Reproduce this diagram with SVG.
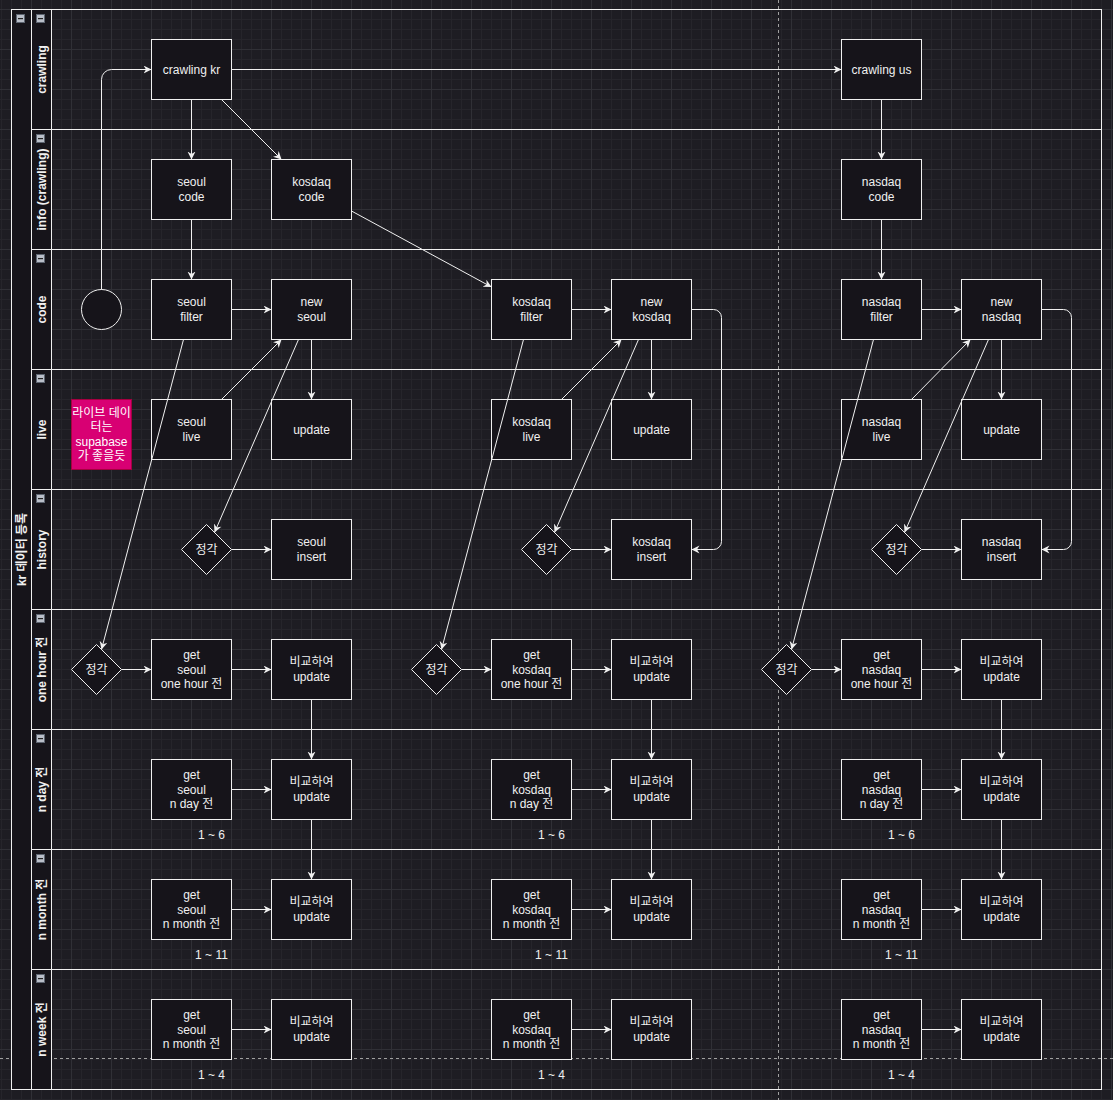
<svg xmlns="http://www.w3.org/2000/svg" width="1113" height="1100" viewBox="0 0 1113 1100">
<defs>
<pattern id="grid" x="31" y="9" width="40" height="40" patternUnits="userSpaceOnUse">
<rect x="0" y="0" width="40" height="40" fill="#1e1d23"/>
<rect x="10" y="0" width="1" height="40" fill="#26252b"/>
<rect x="20" y="0" width="1" height="40" fill="#26252b"/>
<rect x="30" y="0" width="1" height="40" fill="#26252b"/>
<rect x="0" y="10" width="40" height="1" fill="#26252b"/>
<rect x="0" y="20" width="40" height="1" fill="#26252b"/>
<rect x="0" y="30" width="40" height="1" fill="#26252b"/>
<rect x="0" y="0" width="1" height="40" fill="#303036"/>
<rect x="0" y="0" width="40" height="1" fill="#303036"/>
</pattern>
<marker id="arr" markerUnits="userSpaceOnUse" markerWidth="10" markerHeight="10" refX="8" refY="4" orient="auto">
<path d="M8,4 L0,0 L2.5,4 L0,8 Z" fill="#f0f0f0" stroke="none"/>
</marker>
<g id="icon">
<rect x="0.5" y="0.5" width="8" height="8" fill="#b9bec8" stroke="#5d6470" stroke-width="1"/>
<rect x="2" y="4" width="5" height="1.2" fill="#222"/>
</g>
</defs>
<style>
.box{fill:#16141a;stroke:#f0f0f0;stroke-width:1}
.hdr{fill:#16141a;stroke:#f0f0f0;stroke-width:1}
.lane{fill:none;stroke:#f0f0f0;stroke-width:1}
.t{font-family:"Liberation Sans",Arial,"Noto Sans CJK KR",sans-serif;font-size:12px;fill:#f0f0f0;text-anchor:middle}
.b{font-weight:bold}
.c{fill:none;stroke:#f0f0f0;stroke-width:1;marker-end:url(#arr)}
.dash{stroke:#a0a0a0;stroke-width:1;stroke-dasharray:3 3;fill:none}
</style>
<rect x="0" y="0" width="1113" height="1100" fill="url(#grid)"/>
<path class="dash" d="M778.5,0 V1100 M0,1058.5 H1113"/>

<g id="pool">
<rect class="lane" x="11.5" y="9.5" width="1090" height="1080"/>
<rect class="hdr" x="11.5" y="9.5" width="20" height="1080"/>
<use href="#icon" x="16" y="14"/>
<text class="t b" transform="translate(25.8,549.5) rotate(-90)">kr 데이터 등록</text>
</g>
<g id="lane-crawling">
<rect class="lane" x="31.5" y="9.5" width="1070" height="120"/>
<rect class="hdr" x="31.5" y="9.5" width="20" height="120"/>
<use href="#icon" x="36" y="14"/>
<text class="t b" transform="translate(45.8,69.5) rotate(-90)">crawling</text>
</g>
<g id="lane-info">
<rect class="lane" x="31.5" y="129.5" width="1070" height="120"/>
<rect class="hdr" x="31.5" y="129.5" width="20" height="120"/>
<use href="#icon" x="36" y="134"/>
<text class="t b" transform="translate(45.8,189.5) rotate(-90)">info (crawling)</text>
</g>
<g id="lane-code">
<rect class="lane" x="31.5" y="249.5" width="1070" height="120"/>
<rect class="hdr" x="31.5" y="249.5" width="20" height="120"/>
<use href="#icon" x="36" y="254"/>
<text class="t b" transform="translate(45.8,309.5) rotate(-90)">code</text>
</g>
<g id="lane-live">
<rect class="lane" x="31.5" y="369.5" width="1070" height="120"/>
<rect class="hdr" x="31.5" y="369.5" width="20" height="120"/>
<use href="#icon" x="36" y="374"/>
<text class="t b" transform="translate(45.8,429.5) rotate(-90)">live</text>
</g>
<g id="lane-history">
<rect class="lane" x="31.5" y="489.5" width="1070" height="120"/>
<rect class="hdr" x="31.5" y="489.5" width="20" height="120"/>
<use href="#icon" x="36" y="494"/>
<text class="t b" transform="translate(45.8,549.5) rotate(-90)">history</text>
</g>
<g id="lane-onehour">
<rect class="lane" x="31.5" y="609.5" width="1070" height="120"/>
<rect class="hdr" x="31.5" y="609.5" width="20" height="120"/>
<use href="#icon" x="36" y="614"/>
<text class="t b" transform="translate(45.8,669.5) rotate(-90)">one hour 전</text>
</g>
<g id="lane-nday">
<rect class="lane" x="31.5" y="729.5" width="1070" height="120"/>
<rect class="hdr" x="31.5" y="729.5" width="20" height="120"/>
<use href="#icon" x="36" y="734"/>
<text class="t b" transform="translate(45.8,789.5) rotate(-90)">n day 전</text>
</g>
<g id="lane-nmonth">
<rect class="lane" x="31.5" y="849.5" width="1070" height="120"/>
<rect class="hdr" x="31.5" y="849.5" width="20" height="120"/>
<use href="#icon" x="36" y="854"/>
<text class="t b" transform="translate(45.8,909.5) rotate(-90)">n month 전</text>
</g>
<g id="lane-nweek">
<rect class="lane" x="31.5" y="969.5" width="1070" height="120"/>
<rect class="hdr" x="31.5" y="969.5" width="20" height="120"/>
<use href="#icon" x="36" y="974"/>
<text class="t b" transform="translate(45.8,1029.5) rotate(-90)">n week 전</text>
</g>

<!-- nodes -->
<g id="start"><circle cx="101.5" cy="309.5" r="20" class="box"/></g>
<g id="crawling-kr"><rect class="box" x="151.5" y="39.5" width="80" height="60"/><text class="t" x="191.5" y="73.5">crawling kr</text></g>
<g id="crawling-us"><rect class="box" x="841.5" y="39.5" width="80" height="60"/><text class="t" x="881.5" y="73.5">crawling us</text></g>

<g id="seoul-code"><rect class="box" x="151.5" y="159.5" width="80" height="60"/><text class="t" x="191.5" y="186.3">seoul<tspan x="191.5" dy="14.4">code</tspan></text></g>
<g id="kosdaq-code"><rect class="box" x="271.5" y="159.5" width="80" height="60"/><text class="t" x="311.5" y="186.3">kosdaq<tspan x="311.5" dy="14.4">code</tspan></text></g>
<g id="nasdaq-code"><rect class="box" x="841.5" y="159.5" width="80" height="60"/><text class="t" x="881.5" y="186.3">nasdaq<tspan x="881.5" dy="14.4">code</tspan></text></g>

<g id="seoul-filter"><rect class="box" x="151.5" y="279.5" width="80" height="60"/><text class="t" x="191.5" y="306.3">seoul<tspan x="191.5" dy="14.4">filter</tspan></text></g>
<g id="new-seoul"><rect class="box" x="271.5" y="279.5" width="80" height="60"/><text class="t" x="311.5" y="306.3">new<tspan x="311.5" dy="14.4">seoul</tspan></text></g>
<g id="kosdaq-filter"><rect class="box" x="491.5" y="279.5" width="80" height="60"/><text class="t" x="531.5" y="306.3">kosdaq<tspan x="531.5" dy="14.4">filter</tspan></text></g>
<g id="new-kosdaq"><rect class="box" x="611.5" y="279.5" width="80" height="60"/><text class="t" x="651.5" y="306.3">new<tspan x="651.5" dy="14.4">kosdaq</tspan></text></g>
<g id="nasdaq-filter"><rect class="box" x="841.5" y="279.5" width="80" height="60"/><text class="t" x="881.5" y="306.3">nasdaq<tspan x="881.5" dy="14.4">filter</tspan></text></g>
<g id="new-nasdaq"><rect class="box" x="961.5" y="279.5" width="80" height="60"/><text class="t" x="1001.5" y="306.3">new<tspan x="1001.5" dy="14.4">nasdaq</tspan></text></g>

<g id="note"><rect x="71.5" y="399.5" width="60" height="70" fill="#d80073" stroke="#a50040"/><text class="t" x="101.5" y="416.9" style="fill:#ffffff">라이브 데이<tspan x="101.5" dy="14.4">터는</tspan><tspan x="101.5" dy="14.4">supabase</tspan><tspan x="101.5" dy="14.4">가 좋을듯</tspan></text></g>

<g id="seoul-live"><rect class="box" x="151.5" y="399.5" width="80" height="60"/><text class="t" x="191.5" y="426.3">seoul<tspan x="191.5" dy="14.4">live</tspan></text></g>
<g id="seoul-update"><rect class="box" x="271.5" y="399.5" width="80" height="60"/><text class="t" x="311.5" y="433.5">update</text></g>
<g id="kosdaq-live"><rect class="box" x="491.5" y="399.5" width="80" height="60"/><text class="t" x="531.5" y="426.3">kosdaq<tspan x="531.5" dy="14.4">live</tspan></text></g>
<g id="kosdaq-update"><rect class="box" x="611.5" y="399.5" width="80" height="60"/><text class="t" x="651.5" y="433.5">update</text></g>
<g id="nasdaq-live"><rect class="box" x="841.5" y="399.5" width="80" height="60"/><text class="t" x="881.5" y="426.3">nasdaq<tspan x="881.5" dy="14.4">live</tspan></text></g>
<g id="nasdaq-update"><rect class="box" x="961.5" y="399.5" width="80" height="60"/><text class="t" x="1001.5" y="433.5">update</text></g>

<g id="seoul-hour-check"><path class="box" d="M206.5,524.5 L231.5,549.5 L206.5,574.5 L181.5,549.5 Z"/><text class="t" x="206.5" y="553.5">정각</text></g>
<g id="seoul-insert"><rect class="box" x="271.5" y="519.5" width="80" height="60"/><text class="t" x="311.5" y="546.3">seoul<tspan x="311.5" dy="14.4">insert</tspan></text></g>
<g id="kosdaq-hour-check"><path class="box" d="M546.5,524.5 L571.5,549.5 L546.5,574.5 L521.5,549.5 Z"/><text class="t" x="546.5" y="553.5">정각</text></g>
<g id="kosdaq-insert"><rect class="box" x="611.5" y="519.5" width="80" height="60"/><text class="t" x="651.5" y="546.3">kosdaq<tspan x="651.5" dy="14.4">insert</tspan></text></g>
<g id="nasdaq-hour-check"><path class="box" d="M896.5,524.5 L921.5,549.5 L896.5,574.5 L871.5,549.5 Z"/><text class="t" x="896.5" y="553.5">정각</text></g>
<g id="nasdaq-insert"><rect class="box" x="961.5" y="519.5" width="80" height="60"/><text class="t" x="1001.5" y="546.3">nasdaq<tspan x="1001.5" dy="14.4">insert</tspan></text></g>

<g id="seoul-oh-check"><path class="box" d="M96.5,644.5 L121.5,669.5 L96.5,694.5 L71.5,669.5 Z"/><text class="t" x="96.5" y="673.5">정각</text></g>
<g id="get-seoul-oh"><rect class="box" x="151.5" y="639.5" width="80" height="60"/><text class="t" x="191.5" y="659.1">get<tspan x="191.5" dy="14.4">seoul</tspan><tspan x="191.5" dy="14.4">one hour 전</tspan></text></g>
<g id="seoul-oh-update"><rect class="box" x="271.5" y="639.5" width="80" height="60"/><text class="t" x="311.5" y="666.3">비교하여<tspan x="311.5" dy="14.4">update</tspan></text></g>
<g id="kosdaq-oh-check"><path class="box" d="M436.5,644.5 L461.5,669.5 L436.5,694.5 L411.5,669.5 Z"/><text class="t" x="436.5" y="673.5">정각</text></g>
<g id="get-kosdaq-oh"><rect class="box" x="491.5" y="639.5" width="80" height="60"/><text class="t" x="531.5" y="659.1">get<tspan x="531.5" dy="14.4">kosdaq</tspan><tspan x="531.5" dy="14.4">one hour 전</tspan></text></g>
<g id="kosdaq-oh-update"><rect class="box" x="611.5" y="639.5" width="80" height="60"/><text class="t" x="651.5" y="666.3">비교하여<tspan x="651.5" dy="14.4">update</tspan></text></g>
<g id="nasdaq-oh-check"><path class="box" d="M786.5,644.5 L811.5,669.5 L786.5,694.5 L761.5,669.5 Z"/><text class="t" x="786.5" y="673.5">정각</text></g>
<g id="get-nasdaq-oh"><rect class="box" x="841.5" y="639.5" width="80" height="60"/><text class="t" x="881.5" y="659.1">get<tspan x="881.5" dy="14.4">nasdaq</tspan><tspan x="881.5" dy="14.4">one hour 전</tspan></text></g>
<g id="nasdaq-oh-update"><rect class="box" x="961.5" y="639.5" width="80" height="60"/><text class="t" x="1001.5" y="666.3">비교하여<tspan x="1001.5" dy="14.4">update</tspan></text></g>

<g id="get-seoul-nd"><rect class="box" x="151.5" y="759.5" width="80" height="60"/><text class="t" x="191.5" y="779.1">get<tspan x="191.5" dy="14.4">seoul</tspan><tspan x="191.5" dy="14.4">n day 전</tspan></text></g>
<g id="seoul-nd-update"><rect class="box" x="271.5" y="759.5" width="80" height="60"/><text class="t" x="311.5" y="786.3">비교하여<tspan x="311.5" dy="14.4">update</tspan></text></g>
<g id="get-kosdaq-nd"><rect class="box" x="491.5" y="759.5" width="80" height="60"/><text class="t" x="531.5" y="779.1">get<tspan x="531.5" dy="14.4">kosdaq</tspan><tspan x="531.5" dy="14.4">n day 전</tspan></text></g>
<g id="kosdaq-nd-update"><rect class="box" x="611.5" y="759.5" width="80" height="60"/><text class="t" x="651.5" y="786.3">비교하여<tspan x="651.5" dy="14.4">update</tspan></text></g>
<g id="get-nasdaq-nd"><rect class="box" x="841.5" y="759.5" width="80" height="60"/><text class="t" x="881.5" y="779.1">get<tspan x="881.5" dy="14.4">nasdaq</tspan><tspan x="881.5" dy="14.4">n day 전</tspan></text></g>
<g id="nasdaq-nd-update"><rect class="box" x="961.5" y="759.5" width="80" height="60"/><text class="t" x="1001.5" y="786.3">비교하여<tspan x="1001.5" dy="14.4">update</tspan></text></g>
<g id="range-nd"><text class="t" x="211.5" y="838.5">1 ~ 6</text><text class="t" x="551.5" y="838.5">1 ~ 6</text><text class="t" x="901.5" y="838.5">1 ~ 6</text></g>

<g id="get-seoul-nm"><rect class="box" x="151.5" y="879.5" width="80" height="60"/><text class="t" x="191.5" y="899.1">get<tspan x="191.5" dy="14.4">seoul</tspan><tspan x="191.5" dy="14.4">n month 전</tspan></text></g>
<g id="seoul-nm-update"><rect class="box" x="271.5" y="879.5" width="80" height="60"/><text class="t" x="311.5" y="906.3">비교하여<tspan x="311.5" dy="14.4">update</tspan></text></g>
<g id="get-kosdaq-nm"><rect class="box" x="491.5" y="879.5" width="80" height="60"/><text class="t" x="531.5" y="899.1">get<tspan x="531.5" dy="14.4">kosdaq</tspan><tspan x="531.5" dy="14.4">n month 전</tspan></text></g>
<g id="kosdaq-nm-update"><rect class="box" x="611.5" y="879.5" width="80" height="60"/><text class="t" x="651.5" y="906.3">비교하여<tspan x="651.5" dy="14.4">update</tspan></text></g>
<g id="get-nasdaq-nm"><rect class="box" x="841.5" y="879.5" width="80" height="60"/><text class="t" x="881.5" y="899.1">get<tspan x="881.5" dy="14.4">nasdaq</tspan><tspan x="881.5" dy="14.4">n month 전</tspan></text></g>
<g id="nasdaq-nm-update"><rect class="box" x="961.5" y="879.5" width="80" height="60"/><text class="t" x="1001.5" y="906.3">비교하여<tspan x="1001.5" dy="14.4">update</tspan></text></g>
<g id="range-nm"><text class="t" x="211.5" y="958.5">1 ~ 11</text><text class="t" x="551.5" y="958.5">1 ~ 11</text><text class="t" x="901.5" y="958.5">1 ~ 11</text></g>

<g id="get-seoul-nw"><rect class="box" x="151.5" y="999.5" width="80" height="60"/><text class="t" x="191.5" y="1019.1">get<tspan x="191.5" dy="14.4">seoul</tspan><tspan x="191.5" dy="14.4">n month 전</tspan></text></g>
<g id="seoul-nw-update"><rect class="box" x="271.5" y="999.5" width="80" height="60"/><text class="t" x="311.5" y="1026.3">비교하여<tspan x="311.5" dy="14.4">update</tspan></text></g>
<g id="get-kosdaq-nw"><rect class="box" x="491.5" y="999.5" width="80" height="60"/><text class="t" x="531.5" y="1019.1">get<tspan x="531.5" dy="14.4">kosdaq</tspan><tspan x="531.5" dy="14.4">n month 전</tspan></text></g>
<g id="kosdaq-nw-update"><rect class="box" x="611.5" y="999.5" width="80" height="60"/><text class="t" x="651.5" y="1026.3">비교하여<tspan x="651.5" dy="14.4">update</tspan></text></g>
<g id="get-nasdaq-nw"><rect class="box" x="841.5" y="999.5" width="80" height="60"/><text class="t" x="881.5" y="1019.1">get<tspan x="881.5" dy="14.4">nasdaq</tspan><tspan x="881.5" dy="14.4">n month 전</tspan></text></g>
<g id="nasdaq-nw-update"><rect class="box" x="961.5" y="999.5" width="80" height="60"/><text class="t" x="1001.5" y="1026.3">비교하여<tspan x="1001.5" dy="14.4">update</tspan></text></g>
<g id="range-nw"><text class="t" x="211.5" y="1078.5">1 ~ 4</text><text class="t" x="551.5" y="1078.5">1 ~ 4</text><text class="t" x="901.5" y="1078.5">1 ~ 4</text></g>

<!-- connectors -->
<g id="connectors">
<path class="c" d="M101.5,289.5 V79.5 A10,10 0 0 1 111.5,69.5 H151.5"/>
<path class="c" d="M231.5,69.5 H841.5"/>
<path class="c" d="M191.5,99.5 V159.5"/>
<path class="c" d="M221.5,99.5 L281.5,159.5"/>
<path class="c" d="M881.5,99.5 V159.5"/>
<path class="c" d="M191.5,219.5 V279.5"/>
<path class="c" d="M351.5,211 L491.5,287"/>
<path class="c" d="M881.5,219.5 V279.5"/>
<path class="c" d="M231.5,309.5 H271.5"/>
<path class="c" d="M571.5,309.5 H611.5"/>
<path class="c" d="M921.5,309.5 H961.5"/>
<path class="c" d="M221.5,399.5 L281.5,339.5"/>
<path class="c" d="M561.5,399.5 L621.5,339.5"/>
<path class="c" d="M911.5,399.5 L970.5,339.5"/>
<path class="c" d="M311.5,339.5 V399.5"/>
<path class="c" d="M651.5,339.5 V399.5"/>
<path class="c" d="M1001.5,339.5 V399.5"/>
<path class="c" d="M298.5,339.5 L214.5,532.5"/>
<path class="c" d="M638.5,339.5 L554.5,532.5"/>
<path class="c" d="M988.5,339.5 L904.5,532.5"/>
<path class="c" d="M183.5,339.5 L101.5,649.5"/>
<path class="c" d="M523.5,339.5 L441.5,649.5"/>
<path class="c" d="M873.5,339.5 L791.5,649.5"/>
<path class="c" d="M231.5,549.5 H271.5"/>
<path class="c" d="M571.5,549.5 H611.5"/>
<path class="c" d="M921.5,549.5 H961.5"/>
<path class="c" d="M691.5,309.5 H713.5 A8,8 0 0 1 721.5,317.5 V541.5 A8,8 0 0 1 713.5,549.5 H691.5"/>
<path class="c" d="M1041.5,309.5 H1063.5 A8,8 0 0 1 1071.5,317.5 V541.5 A8,8 0 0 1 1063.5,549.5 H1041.5"/>
<path class="c" d="M121.5,669.5 H151.5"/>
<path class="c" d="M231.5,669.5 H271.5"/>
<path class="c" d="M311.5,699.5 V759.5"/>
<path class="c" d="M461.5,669.5 H491.5"/>
<path class="c" d="M571.5,669.5 H611.5"/>
<path class="c" d="M651.5,699.5 V759.5"/>
<path class="c" d="M811.5,669.5 H841.5"/>
<path class="c" d="M921.5,669.5 H961.5"/>
<path class="c" d="M1001.5,699.5 V759.5"/>
<path class="c" d="M231.5,789.5 H271.5"/>
<path class="c" d="M311.5,819.5 V879.5"/>
<path class="c" d="M571.5,789.5 H611.5"/>
<path class="c" d="M651.5,819.5 V879.5"/>
<path class="c" d="M921.5,789.5 H961.5"/>
<path class="c" d="M1001.5,819.5 V879.5"/>
<path class="c" d="M231.5,909.5 H271.5"/>
<path class="c" d="M571.5,909.5 H611.5"/>
<path class="c" d="M921.5,909.5 H961.5"/>
<path class="c" d="M231.5,1029.5 H271.5"/>
<path class="c" d="M571.5,1029.5 H611.5"/>
<path class="c" d="M921.5,1029.5 H961.5"/>
</g>
</svg>
